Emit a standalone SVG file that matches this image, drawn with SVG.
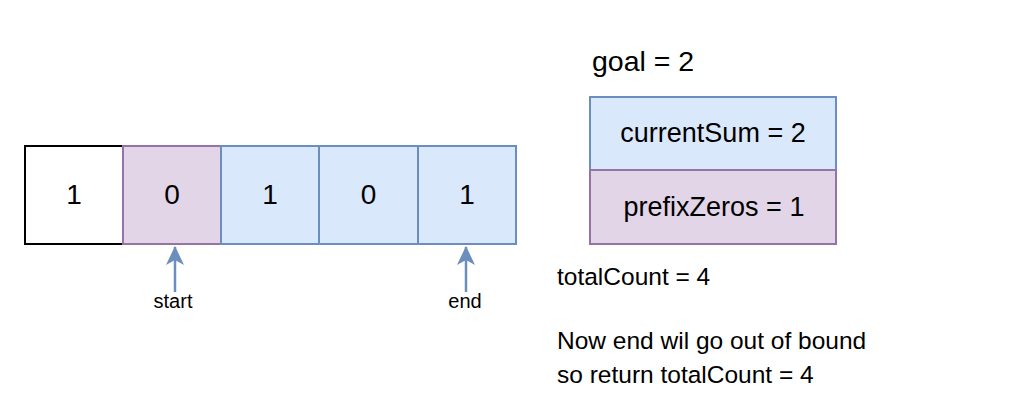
<svg xmlns="http://www.w3.org/2000/svg" width="1010" height="418" viewBox="0 0 1010 418">
<style>
text{font-family:"Liberation Sans",Arial,sans-serif;fill:#000}
.cell{font-size:28px;text-anchor:middle}
.blue{fill:#dae8fc;stroke:#6c8ebf;stroke-width:2}
.purple{fill:#e1d5e7;stroke:#9673a6;stroke-width:2}
.plain{fill:#fff;stroke:#000;stroke-width:2}
.lbl{font-size:20px;text-anchor:middle}
.big{font-size:28.5px}
.box{font-size:27px;text-anchor:middle}
.mid{font-size:24.5px}
.arrow{stroke:#6c8ebf;stroke-width:2.5;fill:none}
</style>
<defs>
<marker id="ah" viewBox="0 0 19 18" refX="18" refY="9" markerWidth="19" markerHeight="18" markerUnits="userSpaceOnUse" orient="auto">
<path d="M0,0 L19,9 L0,18 L5,9 Z" fill="#6c8ebf"/>
</marker>
</defs>
<rect width="1010" height="418" fill="#fff"/>
<g id="cell0"><rect class="plain" x="25" y="146" width="98" height="98"/><text class="cell" x="74" y="204">1</text></g>
<g id="cell1"><rect class="purple" x="123" y="146" width="98" height="98"/><text class="cell" x="172" y="204">0</text></g>
<g id="cell2"><rect class="blue" x="221" y="146" width="98" height="98"/><text class="cell" x="270" y="204">1</text></g>
<g id="cell3"><rect class="blue" x="319" y="146" width="99" height="98"/><text class="cell" x="368.5" y="204">0</text></g>
<g id="cell4"><rect class="blue" x="418" y="146" width="98" height="98"/><text class="cell" x="467" y="204">1</text></g>
<g id="connectors">
<path class="arrow" d="M175,292 L175,247" marker-end="url(#ah)"/>
<path class="arrow" d="M466,292 L466,247" marker-end="url(#ah)"/>
</g>
<g id="startLabel"><text class="lbl" x="173" y="308">start</text></g>
<g id="endLabel"><text class="lbl" x="465" y="308">end</text></g>
<g id="goal"><text class="big" x="592" y="71">goal = 2</text></g>
<g id="currentSum"><rect class="blue" x="590" y="97" width="246" height="73"/><text class="box" x="713" y="142">currentSum = 2</text></g>
<g id="prefixZeros"><rect class="purple" x="590" y="170" width="246" height="74"/><text class="box" x="714" y="216">prefixZeros = 1</text></g>
<g id="totalCount"><text class="mid" x="557" y="285">totalCount = 4</text></g>
<g id="note"><text class="mid" x="557" y="349">Now end wil go out of bound</text><text class="mid" x="557" y="383">so return totalCount = 4</text></g>
</svg>
